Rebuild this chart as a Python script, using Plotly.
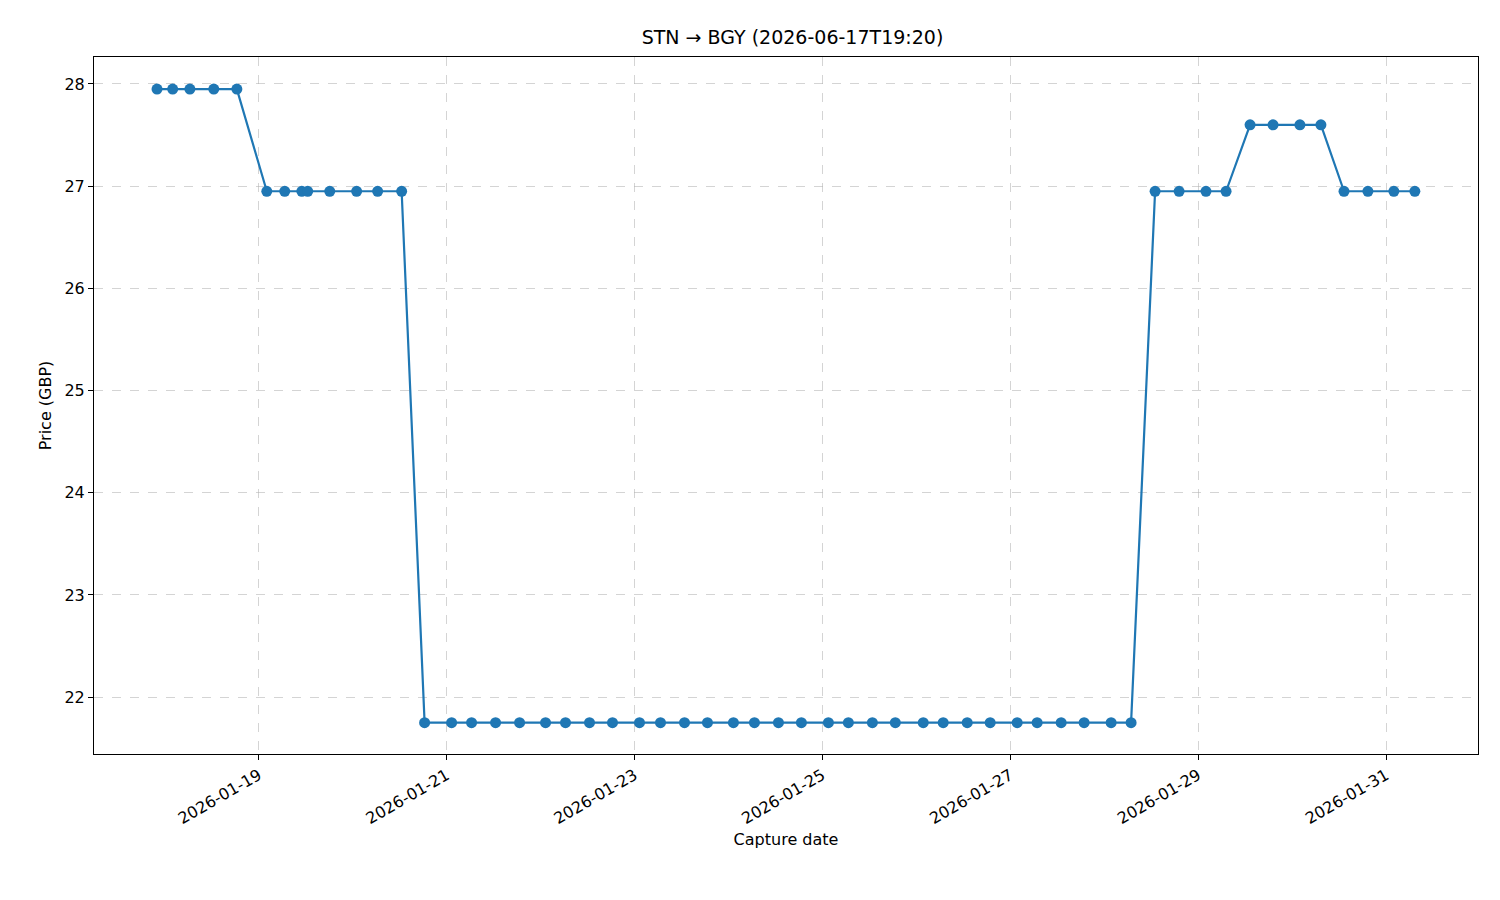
import plotly.graph_objects as go

# capture times
capture_times = [
    "2026-01-17 22:00", "2026-01-18 02:00", "2026-01-18 06:24", "2026-01-18 12:30", "2026-01-18 18:24",
    "2026-01-19 02:03", "2026-01-19 06:38", "2026-01-19 11:00", "2026-01-19 12:30", "2026-01-19 18:08",
    "2026-01-20 01:00", "2026-01-20 06:22", "2026-01-20 12:30",
    "2026-01-20 18:22", "2026-01-21 01:16", "2026-01-21 06:22", "2026-01-21 12:30", "2026-01-21 18:38",
    "2026-01-22 01:16", "2026-01-22 06:22", "2026-01-22 12:30", "2026-01-22 18:22",
    "2026-01-23 01:16", "2026-01-23 06:38", "2026-01-23 12:46", "2026-01-23 18:38",
    "2026-01-24 01:16", "2026-01-24 06:38", "2026-01-24 12:46", "2026-01-24 18:38",
    "2026-01-25 01:32", "2026-01-25 06:38", "2026-01-25 12:46", "2026-01-25 18:38",
    "2026-01-26 01:46", "2026-01-26 06:52", "2026-01-26 13:00", "2026-01-26 18:52",
    "2026-01-27 01:46", "2026-01-27 06:52", "2026-01-27 13:00", "2026-01-27 18:52",
    "2026-01-28 01:46", "2026-01-28 06:52",
    "2026-01-28 13:00", "2026-01-28 19:08", "2026-01-29 02:00", "2026-01-29 07:08",
    "2026-01-29 13:16", "2026-01-29 19:08", "2026-01-30 02:00", "2026-01-30 07:22",
    "2026-01-30 13:16", "2026-01-30 19:22", "2026-01-31 02:00", "2026-01-31 07:22",
]
prices = (
    [27.95] * 5
    + [26.95] * 8
    + [21.75] * 31
    + [26.95] * 4
    + [27.6] * 4
    + [26.95] * 4
)

fig = go.Figure(go.Scatter(
    x=capture_times, y=prices, mode="lines+markers",
    line=dict(color="#1f77b4", width=2.2),
    marker=dict(color="#1f77b4", size=11),
))

grid = dict(showgrid=True, gridcolor="rgba(176,176,176,0.55)", griddash="dash", gridwidth=1,
            showline=True, linecolor="black", linewidth=1, mirror=True,
            ticks="outside", ticklen=5, tickcolor="black", zeroline=False)

fig.update_layout(
    width=1500, height=900,
    plot_bgcolor="white", paper_bgcolor="white",
    font=dict(family="DejaVu Sans", size=16, color="black"),
    title=dict(text="STN → BGY (2026-06-17T19:20)", x=0.523, xanchor="center",
               y=0.975, yanchor="top", font=dict(size=19)),
    margin=dict(l=86, r=30, t=49, b=154),
    showlegend=False,
)
fig.update_xaxes(
    range=["2026-01-17 05:54", "2026-01-31 23:30"],
    tickvals=["2026-01-19", "2026-01-21", "2026-01-23", "2026-01-25", "2026-01-27", "2026-01-29", "2026-01-31"],
    ticktext=["2026-01-19", "2026-01-21", "2026-01-23", "2026-01-25", "2026-01-27", "2026-01-29", "2026-01-31"],
    tickangle=-30, title=dict(text="Capture date", standoff=6, font=dict(size=16)), **grid,
)
fig.update_yaxes(range=[21.443, 28.264], dtick=1,
                 title=dict(text="Price (GBP)", standoff=8, font=dict(size=16)), **grid)

fig.write_html("out.html")
